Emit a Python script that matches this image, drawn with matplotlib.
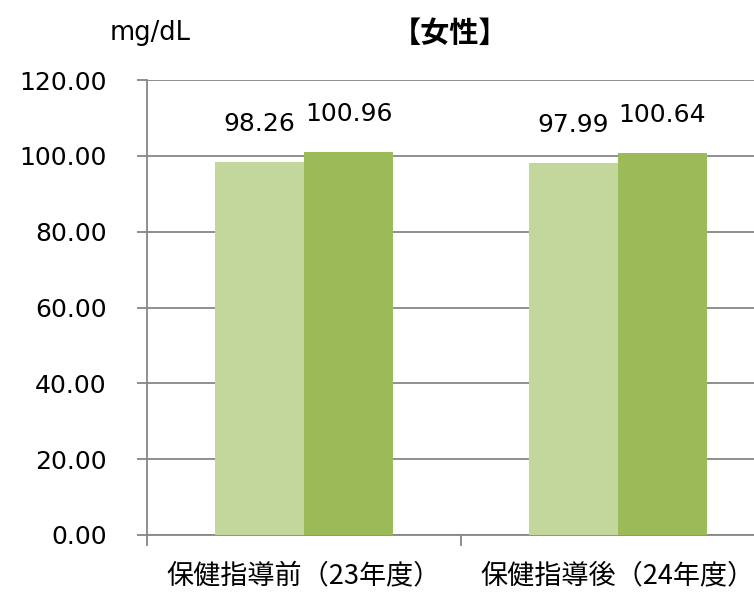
import matplotlib
matplotlib.use("Agg")
import matplotlib.pyplot as plt
import numpy as np

categories = ["保健指導前（23年度）", "保健指導後（24年度）"]
series_a = [98.26, 97.99]
series_b = [100.96, 100.64]
yticks = [0, 20, 40, 60, 80, 100, 120]

color_a = "#C3D69B"
color_b = "#9BBB59"
grid_c = "#868686"

plt.rcParams['font.family'] = ['DejaVu Sans', 'Noto Sans CJK JP']

W, H = 754, 592
fig = plt.figure(figsize=(W / 100, H / 100), dpi=100)
left, right, top, bottom = 147, 775, 80, 535
ax = fig.add_axes([left / W, (H - bottom) / H, (right - left) / W, (bottom - top) / H])

x = np.arange(len(categories))
bw = 89 / 314
bars_a = ax.bar(x - bw / 2, series_a, width=bw, color=color_a, zorder=3)
bars_b = ax.bar(x + bw / 2, series_b, width=bw, color=color_b, zorder=3)

for bars, vals in ((bars_a, series_a), (bars_b, series_b)):
    for b, v in zip(bars, vals):
        ax.annotate(f"{v:.2f}", (b.get_x() + b.get_width() / 2, v),
                    xytext=(0, 27.5), textcoords="offset points",
                    ha="center", va="center", fontsize=18, color="#000000")

ax.set_xlim(-0.5, 1.5)
ax.set_ylim(0, 120)
ax.set_yticks(yticks)
ax.set_yticklabels([f"{t:.2f}" for t in yticks], fontsize=18)
ax.yaxis.grid(True, color=grid_c, linewidth=1.3, zorder=0)
ax.set_axisbelow(True)

ax.set_xticks([-0.5, 0.5, 1.5])
ax.set_xticklabels([])
ax.set_xticks(x, minor=True)
ax.set_xticklabels(categories, minor=True, fontsize=19.5, family=['Noto Sans CJK JP'])
ax.tick_params(axis='x', which='minor', length=0, pad=20)
ax.tick_params(axis='x', which='major', length=8, width=1.3, color=grid_c, direction='out')
ax.tick_params(axis='y', length=7, width=1.3, color=grid_c, direction='out', pad=22)

for s in ("top", "right"):
    ax.spines[s].set_visible(False)
for s in ("left", "bottom"):
    ax.spines[s].set_color(grid_c)
    ax.spines[s].set_linewidth(1.3)

fig.text(150 / W, 1 - 33 / H, "mg/dL", ha="center", va="center", fontsize=18.5)
fig.text(450 / W, 1 - 33 / H, "【女性】", ha="center", va="center", fontsize=21,
         fontweight="bold", family=['Noto Sans CJK JP'])

fig.savefig("out.png", dpi=100)
